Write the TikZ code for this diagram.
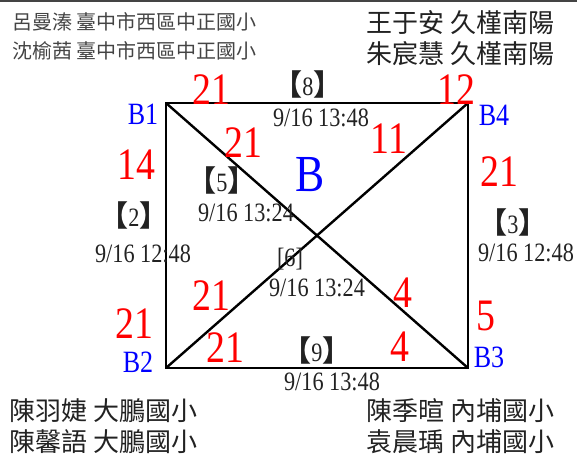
\documentclass[tikz,border=0pt]{standalone}
\usepackage{fontspec}
\setmainfont{Liberation Serif}
\newfontfamily\cjk{Noto Sans CJK TC}
\newfontfamily\narrowserif{Liberation Serif}[FakeStretch=0.84]
\usepackage{xcolor}
\usetikzlibrary{positioning}
\definecolor{scorered}{HTML}{FF0000}
\definecolor{courtblue}{HTML}{0000FF}
\definecolor{textdark}{HTML}{222222}
\definecolor{rulegray}{HTML}{444444}
\newcommand{\gameno}[1]{{\cjk\bfseries\fontsize{29}{29}\selectfont 【}#1{\cjk\bfseries\fontsize{29}{29}\selectfont 】}}

\begin{document}
\begin{tikzpicture}[x=1pt, y=-1pt,
    court/.style={line width=2.4pt, draw=black},
    cornerlab/.style={font=\narrowserif\fontsize{31}{31}\selectfont, text=courtblue, inner sep=0pt},
    score/.style={font=\narrowserif\fontsize{45}{45}\selectfont, text=scorered, inner sep=0pt},
    gamelab/.style={font=\narrowserif\fontsize{26.5}{26.5}\selectfont, text=textdark, inner sep=0pt},
    team/.style={font=\cjk\fontsize{26}{26}\selectfont, text=textdark, anchor=west, inner sep=0pt},
    teamsmall/.style={team, font=\cjk\fontsize{20}{20}\selectfont, text=rulegray}
  ]
  \useasboundingbox (0,0) rectangle (577,456);
  \draw[rulegray, line width=2pt] (0,1) -- (577,1);
  % Teams
  \node[teamsmall] (t1a) at (12,22) {呂曼溱 臺中市西區中正國小};
  \node[teamsmall] (t1b) at (12,51) {沈榆茜 臺中市西區中正國小};
  \node[team] (t4a) at (366,23) {王于安 久槿南陽};
  \node[team] (t4b) at (366,54) {朱宸慧 久槿南陽};
  \node[team] (t2a) at (9,411) {陳羽婕 大鵬國小};
  \node[team] (t2b) at (9,442) {陳馨語 大鵬國小};
  \node[team] (t3a) at (366,411) {陳季暄 內埔國小};
  \node[team] (t3b) at (366,442) {袁晨瑀 內埔國小};
  % Court
  \coordinate (c1) at (166,103);
  \coordinate (c4) at (468,103);
  \coordinate (c2) at (166,368);
  \coordinate (c3) at (468,368);
  \draw[court] (c1) -- (c4) -- (c3) -- (c2) -- cycle;
  \draw[court] (c1) -- (c3);
  \draw[court] (c4) -- (c2);
  \node[cornerlab] (b1) at (143,114) {B1};
  \node[cornerlab] (b4) at (494,115) {B4};
  \node[cornerlab] (b2) at (138,362) {B2};
  \node[cornerlab] (b3) at (489,357) {B3};
  \node[cornerlab, font=\narrowserif\fontsize{52}{52}\selectfont] (grp) at (310,175) {B};
  % Scores
  \node[score] (s8a) at (211,90) {21};
  \node[score] (s8b) at (456,90) {12};
  \node[score] (s5a) at (243,143) {21};
  \node[score] (s5b) at (389,139) {11};
  \node[score] (s2a) at (136,165) {14};
  \node[score] (s2b) at (134,324) {21};
  \node[score] (s3a) at (499,172) {21};
  \node[score] (s3b) at (486,316) {5};
  \node[score] (s6a) at (211,296) {21};
  \node[score] (s6b) at (403,293) {4};
  \node[score] (s9a) at (225,348) {21};
  \node[score] (s9b) at (400,347) {4};
  % Games
  \node[gamelab] (g8) at (308,84) {\gameno{8}};
  \node[gamelab] (g8t) at (321,118) {9/16 13:48};
  \node[gamelab] (g5) at (222,180) {\gameno{5}};
  \node[gamelab] (g5t) at (246,213) {9/16 13:24};
  \node[gamelab] (g2) at (134,215) {\gameno{2}};
  \node[gamelab] (g2t) at (143,254) {9/16 12:48};
  \node[gamelab] (g6) at (290,259) {[6]};
  \node[gamelab] (g6t) at (317,288) {9/16 13:24};
  \node[gamelab] (g9) at (317,350) {\gameno{9}};
  \node[gamelab] (g9t) at (332,382) {9/16 13:48};
  \node[gamelab] (g3) at (513,222) {\gameno{3}};
  \node[gamelab] (g3t) at (526,253) {9/16 12:48};
\end{tikzpicture}
\end{document}
